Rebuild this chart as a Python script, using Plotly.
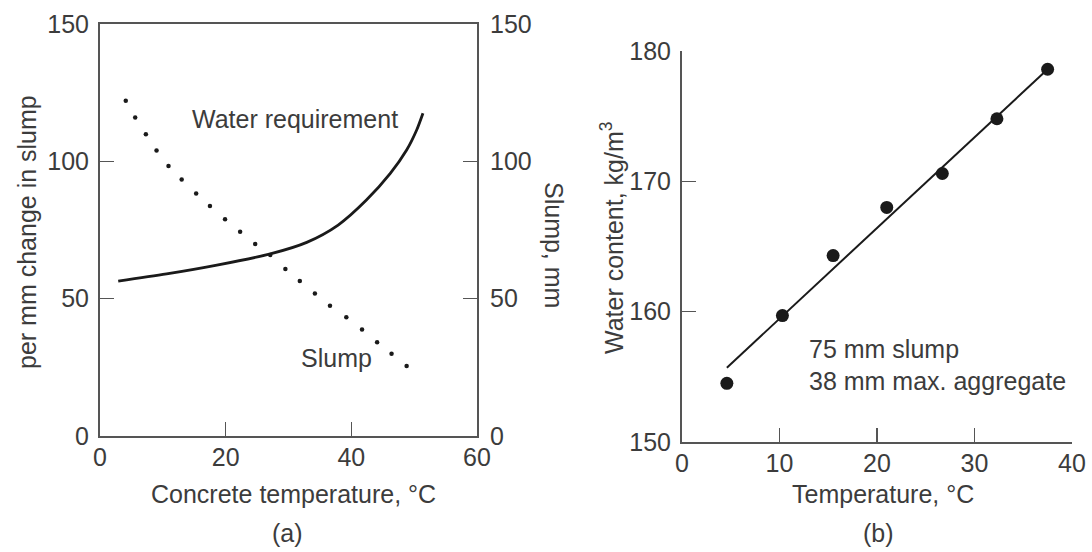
import plotly.graph_objects as go

W, H = 1092, 552

# Panel (a) data
water_temp = [2.9, 10.6, 18.6, 27.1, 32.9, 37.9, 42.4, 46.2, 48.8, 50.4, 51.4]
water_req = [56.4, 59.0, 62.2, 66.3, 70.5, 76.8, 85.9, 95.6, 104.1, 111.4, 117.5]
slump_temp = [4.1, 5.6, 7.3, 9.0, 10.9, 13.0, 15.3, 17.5, 19.9, 22.3, 24.7,
              27.1, 29.5, 31.8, 34.2, 36.6, 39.2, 41.7, 44.1, 46.4, 48.8]
slump_mm = [122.1, 116.0, 109.9, 103.9, 98.3, 93.4, 88.3, 83.7, 78.9, 74.4, 69.9,
            65.9, 60.8, 56.4, 51.9, 47.4, 43.2, 38.8, 34.1, 29.9, 25.5]
a_xticks = [0, 20, 40, 60]
a_yticks = [0, 50, 100, 150]

# Panel (b) data
b_temp = [4.6, 10.3, 15.5, 21.0, 26.7, 32.3, 37.5]
b_water = [154.5, 159.7, 164.3, 168.0, 170.6, 174.8, 178.6]
fit_temp = [4.6, 37.5]
fit_water = [155.7, 178.6]
b_xticks = [0, 10, 20, 30, 40]
b_yticks = [150, 160, 170, 180]

FONT = "Liberation Sans, Arial, sans-serif"
TXT = "#3c3c3c"
AX = "#555555"
FS = 25


def px(x):
    return x / W


def py(y):
    return 1 - y / H


fig = go.Figure()

fig.add_trace(go.Scatter(x=water_temp, y=water_req, mode="lines",
                         line=dict(color="#1a1a1a", width=2.8, shape="spline", smoothing=0.8),
                         xaxis="x", yaxis="y", showlegend=False))
fig.add_trace(go.Scatter(x=slump_temp, y=slump_mm, mode="markers", marker=dict(color="#1a1a1a", size=4.5),
                         xaxis="x", yaxis="y2", showlegend=False))
fig.add_trace(go.Scatter(x=fit_temp, y=fit_water, mode="lines", line=dict(color="#1a1a1a", width=2),
                         xaxis="x2", yaxis="y3", showlegend=False))
fig.add_trace(go.Scatter(x=b_temp, y=b_water, mode="markers", marker=dict(color="#1a1a1a", size=13),
                         xaxis="x2", yaxis="y3", showlegend=False))

tickfont = dict(family=FONT, size=FS, color=TXT)
common = dict(showgrid=False, zeroline=False, ticks="inside", ticklen=14, tickwidth=1.5, tickcolor=AX,
              linecolor=AX, linewidth=2, showline=True, tickfont=tickfont,
              automargin=False, fixedrange=True)

ya_bot, ya_top = 436, 24
yb_bot, yb_top = 442, 51

fig.update_layout(
    width=W, height=H, margin=dict(l=0, r=0, t=0, b=0, autoexpand=False),
    paper_bgcolor="white", plot_bgcolor="white",
    xaxis=dict(domain=[px(100), px(477)], range=[0, 60], tickvals=a_xticks, anchor="y", mirror=True,
               ticklabelstandoff=-2, **common),
    yaxis=dict(domain=[py(ya_bot), py(ya_top)], range=[0, 150], tickvals=a_yticks, anchor="x",
               ticklabelstandoff=4, **common),
    yaxis2=dict(domain=[py(ya_bot), py(ya_top)], range=[0, 150], tickvals=a_yticks, anchor="x", overlaying="y",
                side="right", ticklabelstandoff=6, **common),
    xaxis2=dict(domain=[px(682), px(1072)], range=[0, 40], tickvals=b_xticks, anchor="y3",
                ticklabelstandoff=-2, **common),
    yaxis3=dict(domain=[py(yb_bot), py(yb_top)], range=[150, 180], tickvals=b_yticks, anchor="x2",
                ticklabelstandoff=4, **common),
)

annos = [
    ("Water requirement", 31.1, 115.5),
    ("Slump", 37.6, 28.4),
]
for t, x, y in annos:
    fig.add_annotation(text=t, x=x, y=y, xref="x", yref="y", showarrow=False,
                       font=dict(family=FONT, size=FS, color=TXT))

paper_annos = [
    ("per mm change in slump", 27, 232, -90, "center"),
    ("Slump, mm", 554, 245, 90, "center"),
    ("Concrete temperature, °C", 293, 494, 0, "center"),
    ("(a)", 287, 533, 0, "center"),
    ("Water content, kg/m<sup>3</sup>", 612, 238, -90, "center"),
    ("Temperature, °C", 883, 494, 0, "center"),
    ("(b)", 878, 533, 0, "center"),
    ("75 mm slump", 807, 349, 0, "left"),
    ("38 mm max. aggregate", 807, 381, 0, "left"),
]
for t, x, y, ang, xa in paper_annos:
    fig.add_annotation(text=t, x=px(x), y=py(y), xref="paper", yref="paper", showarrow=False, textangle=ang,
                       xanchor=xa, yanchor="middle", font=dict(family=FONT, size=FS, color=TXT))

# Remove the browser's default 8px body margin so the figure sits at the window's top-left corner.
fig.write_html("out.html", config={"displayModeBar": False, "staticPlot": True},
               post_script="document.body.style.margin='0';document.body.style.overflow='hidden';")
